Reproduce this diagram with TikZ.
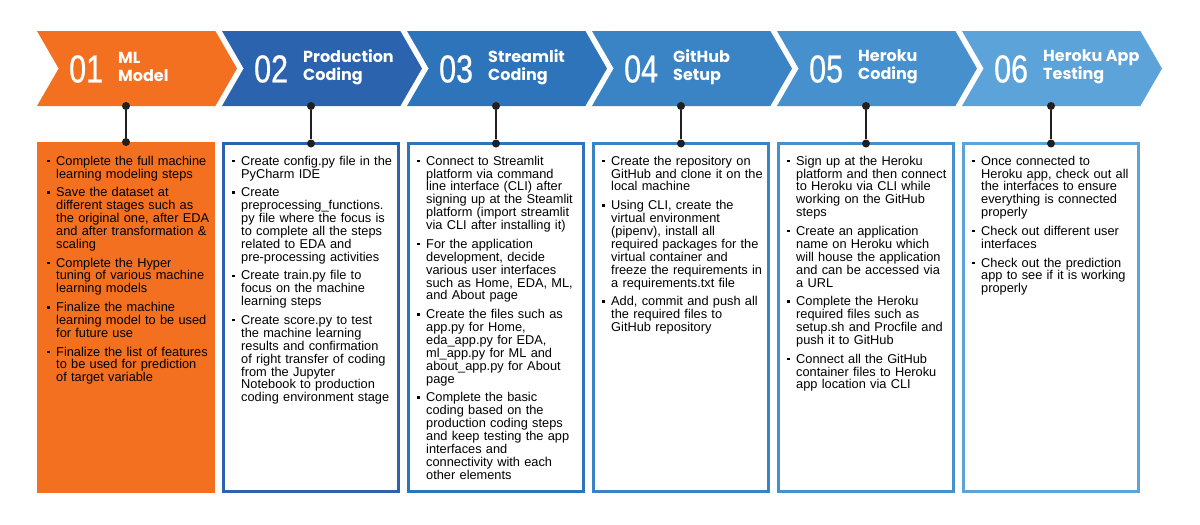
\documentclass[tikz,border=0pt]{standalone}
\usepackage{fontspec}
\setmainfont{Liberation Sans}
\newfontfamily\numfont[FakeStretch=0.78,FakeBold=0.6]{Liberation Sans}
\newfontfamily\headfont{Poppins}
\usepackage{tikz}
\usetikzlibrary{shapes.symbols,positioning}

\definecolor{stepA}{HTML}{F37021}
\definecolor{stepB}{HTML}{2B63AE}
\definecolor{stepC}{HTML}{2E74BA}
\definecolor{stepD}{HTML}{3A83C5}
\definecolor{stepE}{HTML}{4690CD}
\definecolor{stepF}{HTML}{5BA3D9}
\definecolor{stemcol}{HTML}{231F20}

\newcommand{\bitem}[1]{\par\leftskip=9pt\noindent\llap{\makebox[9pt][l]{\raisebox{3pt}{\rule{2.4pt}{2.4pt}}}}#1\par\vspace{5.8pt}}

\begin{document}
\begin{tikzpicture}[
  x=1pt, y=-1pt,
  chev/.style={signal, signal to=east, signal from=west, signal pointer angle=120, minimum width=200pt, minimum height=75pt, inner sep=0pt, outer sep=0pt},
  stepnum/.style={text=white, font=\numfont\fontsize{39}{39}\selectfont, inner sep=0pt, anchor=west},
  stephead/.style={text=white, font=\headfont\bfseries\fontsize{16}{18}\selectfont, align=left, inner sep=0pt, anchor=west},
  card/.style={line width=3pt, fill=white, minimum width=175pt, minimum height=348pt, inner sep=0pt, outer sep=0pt},
  bullets/.style={inner sep=0pt, text width=172pt, align=left, font=\fontsize{12.8}{12.9}\selectfont},
  stem/.style={draw=stemcol, line width=2pt},
  pindot/.style={circle, fill=stemcol, inner sep=0pt, minimum size=8pt}
]
\useasboundingbox (0,0) rectangle (1200,525);

\node[chev, fill=stepA] (chev1) at (137,68.5) {};
\node[chev, fill=stepB] (chev2) at (322,68.5) {};
\node[chev, fill=stepC] (chev3) at (507,68.5) {};
\node[chev, fill=stepD] (chev4) at (692,68.5) {};
\node[chev, fill=stepE] (chev5) at (877,68.5) {};
\node[chev, fill=stepF] (chev6) at (1062,68.5) {};

\node[stepnum] (num1) at (69,69) {01};
\node[stepnum] (num2) at (254,69) {02};
\node[stepnum] (num3) at (439,69) {03};
\node[stepnum] (num4) at (624,69) {04};
\node[stepnum] (num5) at (809,69) {05};
\node[stepnum] (num6) at (994,69) {06};

\node[stephead] (head1) at (118,67) {ML\\Model};
\node[stephead] (head2) at (303,67) {Production\\Coding};
\node[stephead] (head3) at (488,67) {Streamlit\\Coding};
\node[stephead] (head4) at (673,67) {GitHub\\Setup};
\node[stephead] (head5) at (858,67) {Heroku\\Coding};
\node[stephead] (head6) at (1043,67) {Heroku App\\Testing};

\node[card, fill=stepA, minimum width=178pt, minimum height=351pt] (box1) at (126,317.5) {};
\node[card, draw=stepB] (box2) at (311,317.5) {};
\node[card, draw=stepC] (box3) at (496,317.5) {};
\node[card, draw=stepD] (box4) at (681,317.5) {};
\node[card, draw=stepE] (box5) at (866,317.5) {};
\node[card, draw=stepF] (box6) at (1051,317.5) {};

\foreach \n in {1,...,6} {
  \node[pindot] (up\n) at ([xshift=-11pt]chev\n.south) {};
  \node[pindot] (dn\n) at (box\n.north) {};
  \draw[stem] (up\n) -- (dn\n);
}

\node[bullets, below right=10pt and 10pt of box1.north west] (txt1) {%
\bitem{Complete the full machine\\learning modeling steps}
\bitem{Save the dataset at\\different stages such as\\the original one, after EDA\\and after transformation \&\\scaling}
\bitem{Complete the Hyper\\tuning of various machine\\learning models}
\bitem{Finalize the machine\\learning model to be used\\for future use}
\bitem{Finalize the list of features\\to be used for prediction\\of target variable}};

\node[bullets, below right=8.5pt and 8.5pt of box2.north west] (txt2) {%
\bitem{Create config.py file in the\\PyCharm IDE}
\bitem{Create\\preprocessing\_functions.\\py file where the focus is\\to complete all the steps\\related to EDA and\\pre-processing activities}
\bitem{Create train.py file to\\focus on the machine\\learning steps}
\bitem{Create score.py to test\\the machine learning\\results and confirmation\\of right transfer of coding\\from the Jupyter\\Notebook to production\\coding environment stage}};

\node[bullets, below right=8.5pt and 8.5pt of box3.north west] (txt3) {%
\bitem{Connect to Streamlit\\platform via command\\line interface (CLI) after\\signing up at the Steamlit\\platform (import streamlit\\via CLI after installing it)}
\bitem{For the application\\development, decide\\various user interfaces\\such as Home, EDA, ML,\\and About page}
\bitem{Create the files such as\\app.py for Home,\\eda\_app.py for EDA,\\ml\_app.py for ML and\\about\_app.py for About\\page}
\bitem{Complete the basic\\coding based on the\\production coding steps\\and keep testing the app\\interfaces and\\connectivity with each\\other elements}};

\node[bullets, below right=8.5pt and 8.5pt of box4.north west] (txt4) {%
\bitem{Create the repository on\\GitHub and clone it on the\\local machine}
\bitem{Using CLI, create the\\virtual environment\\(pipenv), install all\\required packages for the\\virtual container and\\freeze the requirements in\\a requirements.txt file}
\bitem{Add, commit and push all\\the required files to\\GitHub repository}};

\node[bullets, below right=8.5pt and 8.5pt of box5.north west] (txt5) {%
\bitem{Sign up at the Heroku\\platform and then connect\\to Heroku via CLI while\\working on the GitHub\\steps}
\bitem{Create an application\\name on Heroku which\\will house the application\\and can be accessed via\\a URL}
\bitem{Complete the Heroku\\required files such as\\setup.sh and Procfile and\\push it to GitHub}
\bitem{Connect all the GitHub\\container files to Heroku\\app location via CLI}};

\node[bullets, below right=8.5pt and 8.5pt of box6.north west] (txt6) {%
\bitem{Once connected to\\Heroku app, check out all\\the interfaces to ensure\\everything is connected\\properly}
\bitem{Check out different user\\interfaces}
\bitem{Check out the prediction\\app to see if it is working\\properly}};
\end{tikzpicture}
\end{document}
